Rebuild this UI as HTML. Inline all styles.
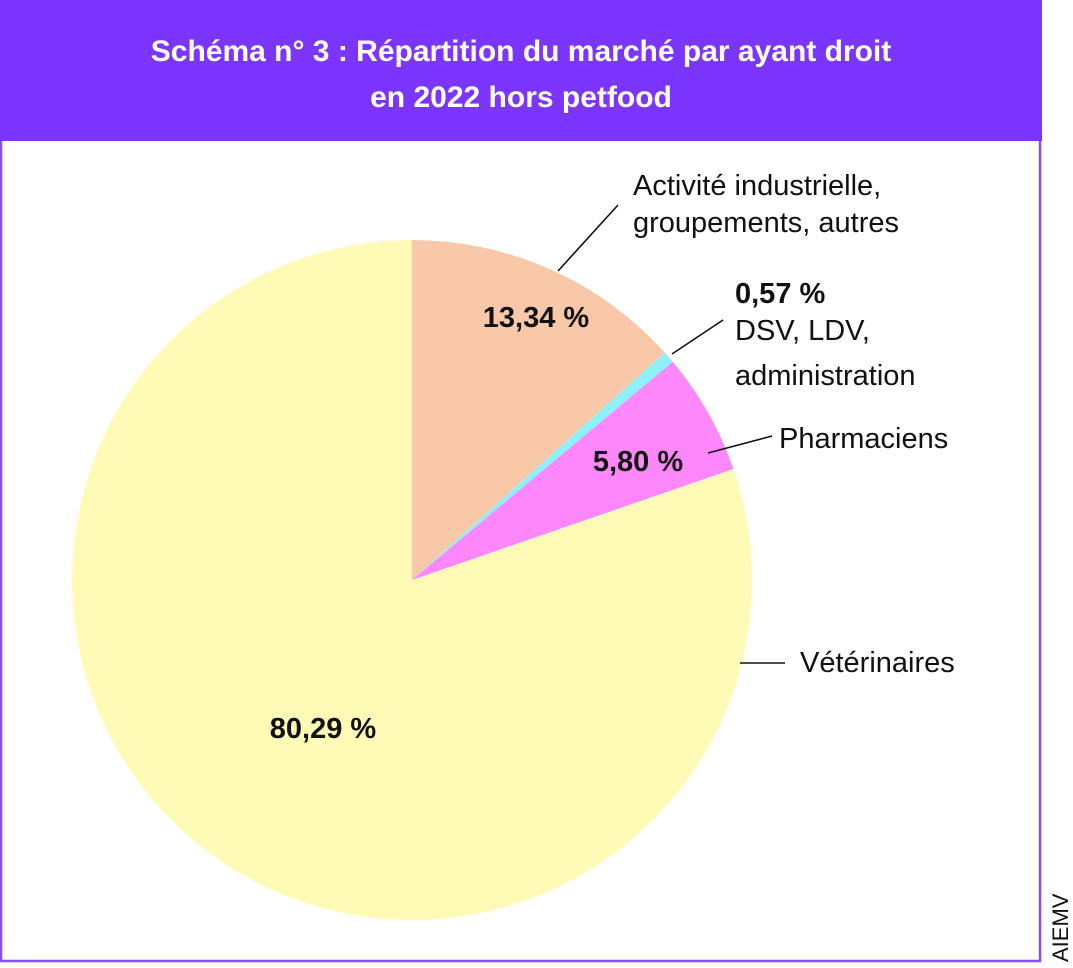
<!DOCTYPE html>
<html><head><meta charset="utf-8"><style>
body{margin:0;background:#fff;width:1073px;height:963px;overflow:hidden;font-family:"Liberation Sans",sans-serif}
</style></head><body>
<svg width="1073" height="963">
<rect x="1" y="1" width="1039" height="960" fill="none" stroke="#8a4cff" stroke-width="2.5"/>
<rect x="0" y="0" width="1042" height="141" fill="#7b35ff"/>
<text x="521" y="61" text-anchor="middle" font-size="30" font-weight="bold" fill="#fff">Schéma n° 3 : Répartition du marché par ayant droit</text>
<text x="521" y="107" text-anchor="middle" font-size="30" font-weight="bold" fill="#fff">en 2022 hors petfood</text>
<g id="slices"></g>
<g stroke="#111" stroke-width="1.6">
<line x1="558" y1="271" x2="618" y2="205"/>
<line x1="672" y1="354" x2="723" y2="320"/>
<line x1="708" y1="453" x2="772" y2="436"/>
<line x1="740" y1="663" x2="785" y2="663"/>
</g>
<g font-size="29" fill="#111">
<text x="633" y="195">Activité industrielle,</text>
<text x="633" y="232">groupements, autres</text>
<text x="735" y="303" font-weight="bold">0,57 %</text>
<text x="735" y="340">DSV, LDV,</text>
<text x="735" y="385">administration</text>
<text x="779" y="448">Pharmaciens</text>
<text x="800" y="672">Vétérinaires</text>
<text x="536" y="327" text-anchor="middle" font-weight="bold">13,34 %</text>
<text x="638" y="471" text-anchor="middle" font-weight="bold">5,80 %</text>
<text x="323" y="738" text-anchor="middle" font-weight="bold">80,29 %</text>
</g>
<text transform="translate(1068,962) rotate(-90)" font-size="22" fill="#111">AIEMV</text>
</svg>
<script>
const categories=["Activité industrielle","DSV, LDV, administration","Pharmaciens","Vétérinaires"];
const values=[13.34,0.57,5.80,80.29];
const colors=["#f9c8a9","#8ff1f8","#fd87fb","#fffab6"];
const cx=412,cy=580,r=340;
const g=document.getElementById('slices');
const total=values.reduce((a,b)=>a+b,0);
let a0=0;
function pt(a){return [cx+r*Math.sin(a),cy-r*Math.cos(a)];}
values.forEach((v,i)=>{
 const a1=a0+v/total*2*Math.PI;
 const p0=pt(a0),p1=pt(a1);
 const large=(a1-a0)>Math.PI?1:0;
 const p=document.createElementNS('http://www.w3.org/2000/svg','path');
 p.setAttribute('d',`M${cx},${cy}L${p0[0]},${p0[1]}A${r},${r} 0 ${large} 1 ${p1[0]},${p1[1]}Z`);
 p.setAttribute('fill',colors[i]);
 
 
 g.appendChild(p);
 a0=a1;
});
</script>
</body></html>
